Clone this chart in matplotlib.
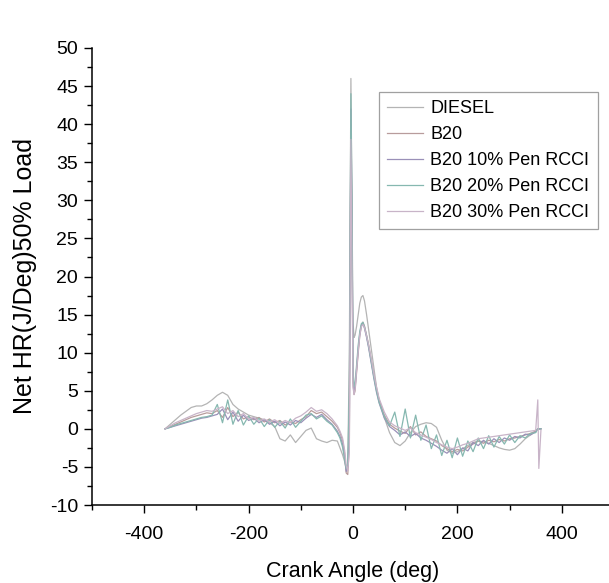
#net heat release vs crank angle, 50% load
#values
import numpy as np
from matplotlib import pyplot as plt

plt.rcParams['font.family'] = ['Liberation Sans', 'DejaVu Sans']
plt.rcParams['axes.unicode_minus'] = False

#crank angle grid (deg), finer around TDC
crank_angle = ([-360, -350, -340, -330, -320, -310, -300, -290, -280, -270,
                -260, -250, -240, -230, -220, -210, -200, -190, -180, -170,
                -160, -150, -140, -130, -120, -110, -100, -90, -80, -70,
                -60, -50, -40, -30]
               + [-25, -20, -16, -13, -10, -7, -4, -2, 0, 2, 4, 7, 10, 13, 16,
                  19, 22, 26, 30, 35, 40, 45, 50]
               + [60, 70, 80, 90, 100, 110, 120, 130, 140, 150, 160, 170, 180,
                  190, 200, 210, 220, 230, 240, 250, 260, 270, 280, 290, 300,
                  310, 320, 330, 340, 350, 354, 356, 360])

diesel = [0, 0.6, 1.2, 1.8, 2.3, 2.8, 3.0, 3.0, 3.3, 3.8,
          4.4, 4.8, 4.4, 3.2, 2.6, 2.2, 1.8, 1.6, 1.4, 1.2,
          0.8, 0.3, -1.3, -1.6, -0.8, -1.8, -1.0, -0.2, 0.1, -1.3,
          -1.6, -1.8, -1.5, -1.6,
          -2.5, -3.4, -4.3, -5.4, -4.5, 10, 46, 30, 14, 12, 12.3, 13.5, 15, 16.5, 17.3,
          17.5, 16.8, 15, 13, 10.5, 8, 5.5, 3.8,
          1.5, -0.5, -1.8, -2.2, -1.6, -0.5, 0.3, 0.6, 0.8, 0.7, 0.2, -1.5, -2.8,
          -3.2, -3.0, -2.6, -2.2, -1.8, -1.6, -1.7, -1.9, -2.2, -2.5, -2.7, -2.8,
          -2.6, -2.0, -1.3, -0.8, -0.3, 0, 0, 0]

b20 = [0, 0.3, 0.6, 0.9, 1.2, 1.5, 1.7, 1.9, 2.1, 2.0,
       2.4, 1.5, 2.8, 1.6, 2.2, 1.3, 1.6, 1.2, 1.5, 0.9,
       1.3, 0.8, 1.1, 0.5, 0.9, 0.7, 1.2, 1.6, 2.4, 2.0,
       2.2, 1.6, 1.0, 0.2,
       -0.5, -1.5, -3.2, -5.8, -6.0, -2, 40, 25, 6, 4.5, 5, 7.5, 10, 12.2, 13.5,
       14, 13.5, 12.3, 11, 9, 7, 5.2, 3.8,
       1.8, 0.6, 0.1, -0.3, -0.6, 0.3, -0.8, -0.4, -1.0, -1.3, -1.6, -2.2, -2.6,
       -3.0, -2.7, -2.9, -2.4, -2.0, -1.6, -1.9, -1.5, -1.7, -1.4, -1.6, -1.3,
       -1.2, -1.0, -0.8, -0.6, -0.3, 0, 0, 0]

b20_10 = [0, 0.2, 0.4, 0.6, 0.8, 1.0, 1.2, 1.4, 1.5, 1.7,
          1.9, 2.6, 1.2, 2.2, 1.0, 1.8, 1.1, 1.4, 0.8, 1.2,
          0.6, 1.0, 0.4, 0.9, 0.5, 1.1, 0.8, 1.4, 1.9, 1.5,
          1.9, 1.2, 0.6, -0.3,
          -1.0, -2.0, -3.8, -5.6, -5.0, 0, 42, 28, 7, 5, 5.5, 8, 10.5, 12.5, 13.6,
          13.8, 13.2, 12, 10.6, 8.6, 6.6, 4.8, 3.4,
          1.4, 0.3, -0.2, -0.8, -0.4, -1.0, -0.6, -1.2, -1.5, -1.9, -2.3, -2.8, -3.2,
          -2.6, -3.4, -2.5, -2.9, -1.8, -2.2, -1.5, -2.0, -1.3, -1.8, -1.2, -1.5,
          -1.0, -1.2, -0.7, -0.8, -0.4, 0, 0, 0]

b20_20 = [0, 0.2, 0.5, 0.7, 0.9, 1.1, 1.3, 1.5, 1.6, 1.8,
          3.2, 0.8, 3.8, 0.6, 2.4, 0.5, 1.7, 0.6, 1.4, 0.3,
          1.2, 0.2, 1.0, 0.1, 1.3, 0.2, 1.0, 1.8, 2.0, 1.3,
          1.7, 1.0, 0.5, -0.5,
          -1.2, -2.4, -4.0, -5.2, -4.6, 5, 44, 30, 8, 5.5, 6, 8.5, 11, 12.8, 13.8,
          14, 13.4, 12.2, 10.8, 8.8, 6.8, 5.0, 3.5,
          1.6, 0.4, 2.2, -1.0, 2.6, -1.2, 1.8, -1.5, 0.5, -2.6, -0.8, -3.5, -1.5,
          -3.8, -1.2, -3.6, -1.6, -3.0, -1.2, -2.6, -0.9, -2.4, -1.0, -2.0, -0.8,
          -1.8, -0.9, -1.2, -0.6, -0.5, 0, 0, 0]

b20_30 = [0, 0.4, 0.8, 1.1, 1.4, 1.7, 2.0, 2.2, 2.4, 2.3,
          2.6, 2.9, 2.0, 2.4, 1.6, 2.0, 1.3, 1.5, 1.0, 1.3,
          0.9, 1.2, 0.7, 1.1, 0.8, 1.4, 1.7, 2.2, 2.8, 2.3,
          2.5, 2.0, 1.3, 0.4,
          -0.3, -1.2, -2.8, -4.8, -5.5, -3, 38, 22, 5.5, 4.5, 5.2, 7.8, 10.2, 12.3, 13.4,
          13.7, 13.3, 12.2, 11, 9.2, 7.2, 5.5, 4,
          2.2, 0.9, 0.4, 0.1, -0.2, 0.1, -0.5, -0.8, -1.1, -1.4, -1.8, -2.1, -2.4,
          -2.6, -2.4, -2.1, -1.9, -1.6, -1.3, -1.2, -1.1, -1.0, -0.9, -0.8, -0.7,
          -0.6, -0.5, -0.4, -0.3, -0.2, 3.8, -5.2, -0.2]

labels = ['DIESEL', 'B20', 'B20 10% Pen RCCI', 'B20 20% Pen RCCI', 'B20 30% Pen RCCI']
colors = ['#b4b4b4', '#b89c9c', '#9a90b8', '#86b8b0', '#c8b4c8']

fig = plt.figure(figsize=(6.09, 5.83), dpi=100)
ax = fig.add_axes([92/609, 78/583, 522/609, 457/583])

for series, lab, col in zip([diesel, b20, b20_10, b20_20, b20_30], labels, colors):
    ax.plot(crank_angle, series, color=col, linewidth=0.9, label=lab)

ax.set_xlim(-500, 500)
ax.set_ylim(-10, 50)
ax.set_xticks([-400, -200, 0, 200, 400])
ax.set_xticks(np.arange(-500, 501, 100), minor=True)
ax.set_yticks(np.arange(-10, 51, 5))
ax.set_yticks(np.arange(-10, 50.1, 2.5), minor=True)
ax.tick_params(axis='both', which='major', length=6, width=1, labelsize=14, pad=4)
ax.tick_params(axis='x', which='major', pad=9)
ax.tick_params(axis='both', which='minor', length=3.5, width=1)
ax.spines['top'].set_visible(False)
ax.spines['right'].set_visible(False)
ax.spines['left'].set_linewidth(1.1)
ax.spines['bottom'].set_linewidth(1.1)

ax.set_xlabel('Crank Angle (deg)', fontsize=15.5, labelpad=13)
ax.set_ylabel('Net HR(J/Deg)50% Load', fontsize=18, labelpad=9)

leg = ax.legend(loc='upper left', bbox_to_anchor=(379/609, 1 - 92/583),
                bbox_transform=fig.transFigure, borderaxespad=0, fontsize=13,
                fancybox=False, edgecolor='#888888', handlelength=2.0,
                handletextpad=0.4, labelspacing=0.5, borderpad=0.45)
leg.get_frame().set_linewidth(0.9)

plt.savefig('out.png', dpi=100)
